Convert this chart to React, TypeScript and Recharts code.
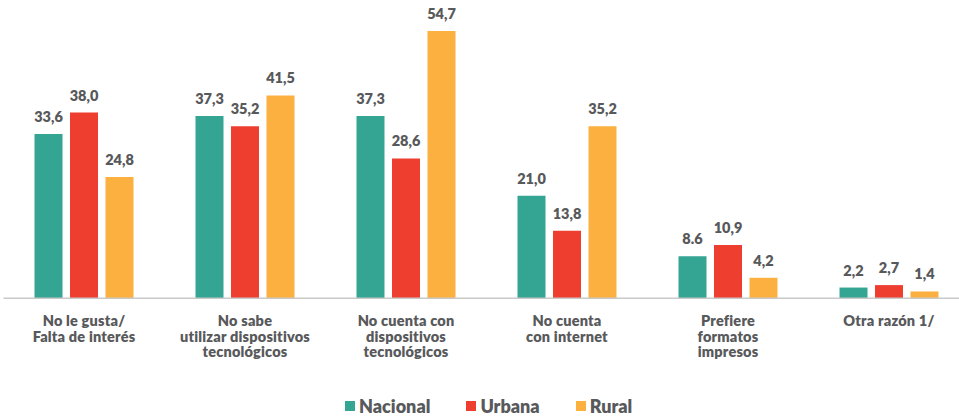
import { BarChart, Bar, XAxis, YAxis, LabelList } from "recharts";

const categories = [
  "No le gusta/\nFalta de interés",
  "No sabe\nutilizar dispositivos\ntecnológicos",
  "No cuenta con\ndispositivos\ntecnológicos",
  "No cuenta\ncon internet",
  "Prefiere\nformatos\nimpresos",
  "Otra razón 1/",
];

const nacional = [33.6, 37.3, 37.3, 21.0, 8.6, 2.2];
const urbana = [38.0, 35.2, 28.6, 13.8, 10.9, 2.7];
const rural = [24.8, 41.5, 54.7, 35.2, 4.2, 1.4];

const nacionalLabels = ["33,6", "37,3", "37,3", "21,0", "8.6", "2,2"];
const urbanaLabels = ["38,0", "35,2", "28,6", "13,8", "10,9", "2,7"];
const ruralLabels = ["24,8", "41,5", "54,7", "35,2", "4,2", "1,4"];

const series = [
  { key: "nacional", label: "nLabel", name: "Nacional", color: "#35A593" },
  { key: "urbana", label: "uLabel", name: "Urbana", color: "#EE3E2F" },
  { key: "rural", label: "rLabel", name: "Rural", color: "#FBB040" },
];

const TEXT = "#58595B";
const FONT = "Lato, 'Open Sans', sans-serif";

const data = categories.map((c, i) => ({
  category: c,
  nacional: nacional[i],
  urbana: urbana[i],
  rural: rural[i],
  nLabel: nacionalLabels[i],
  uLabel: urbanaLabels[i],
  rLabel: ruralLabels[i],
}));

function CategoryTick(props: any) {
  const { x, y, payload } = props;
  const lines = String(payload.value).split("\n");
  return (
    <text
      x={x}
      y={y}
      textAnchor="middle"
      fill={TEXT}
      fontFamily={FONT}
      fontWeight={800}
      fontSize={14.5}
      letterSpacing={0.2}
    >
      {lines.map((l, i) => (
        <tspan key={i} x={x} dy={i === 0 ? 28 : 15.5}>
          {l}
        </tspan>
      ))}
    </text>
  );
}

export default function App() {
  return (
    <div
      style={{
        position: "fixed",
        top: 0,
        left: 0,
        width: 959,
        height: 419,
        overflow: "hidden",
        background: "#fff",
      }}
    >
      <BarChart
        width={970}
        height={419}
        data={data}
        margin={{ top: 5, right: 0.5, left: 3.5, bottom: 10.7 }}
        barSize={28}
        barGap={7.5}
      >
        <XAxis
          dataKey="category"
          height={110}
          interval={0}
          tickLine={false}
          tickSize={0}
          tickMargin={0}
          axisLine={{ stroke: "#C9C9C9", strokeWidth: 1.5 }}
          tick={<CategoryTick />}
        />
        <YAxis hide domain={[0, 60]} />
        {series.map((s) => (
          <Bar
            key={s.key}
            dataKey={s.key}
            name={s.name}
            fill={s.color}
            isAnimationActive={false}
          >
            <LabelList
              dataKey={s.label}
              position="top"
              offset={12}
              fill={TEXT}
              fontFamily={FONT}
              fontWeight={800}
              fontSize={14.5}
            />
          </Bar>
        ))}
      </BarChart>
      <div
        style={{
          position: "absolute",
          top: 395,
          left: 345,
          display: "flex",
          alignItems: "center",
          gap: 36,
          fontFamily: FONT,
          fontWeight: 800,
          fontSize: 18,
          color: TEXT,
        }}
      >
        {series.map((s) => (
          <div key={s.key} style={{ display: "flex", alignItems: "center", gap: 4 }}>
            <span style={{ width: 10, height: 10, background: s.color, display: "inline-block" }} />
            <span>{s.name}</span>
          </div>
        ))}
      </div>
    </div>
  );
}
